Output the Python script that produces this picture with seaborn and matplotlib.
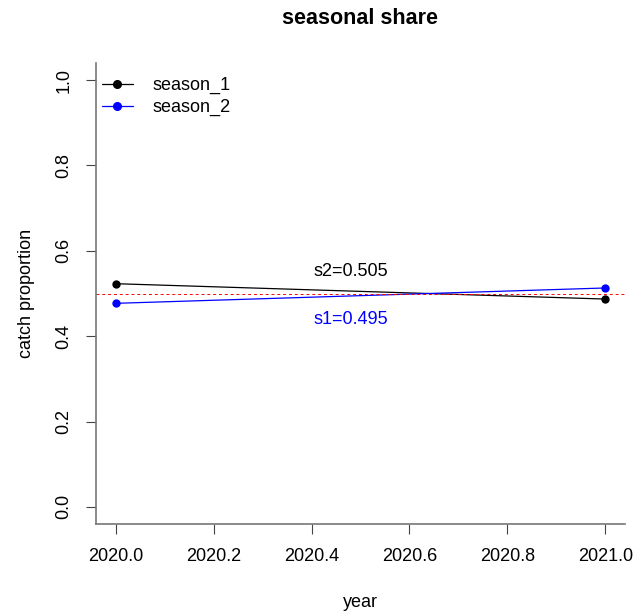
import pandas as pd
import matplotlib
matplotlib.use("Agg")
import matplotlib.pyplot as plt
import seaborn as sns

# values
years = [2020.0, 2021.0]
season_1 = [0.523, 0.487]
season_2 = [0.477, 0.513]
series_names = ["season_1", "season_2"]
series_colors = ["black", "blue"]
x_ticks = [2020.0, 2020.2, 2020.4, 2020.6, 2020.8, 2021.0]
y_ticks = [0.0, 0.2, 0.4, 0.6, 0.8, 1.0]

df = pd.DataFrame({
    "year": years * 2,
    "share": season_1 + season_2,
    "season": [series_names[0]] * 2 + [series_names[1]] * 2,
})

sns.set_style("ticks")
plt.rcParams["font.family"] = ["Liberation Sans", "DejaVu Sans"]
plt.rcParams["text.color"] = "black"
plt.rcParams["axes.labelcolor"] = "black"
plt.rcParams["xtick.color"] = "black"
plt.rcParams["ytick.color"] = "black"

fig = plt.figure(figsize=(6.34, 6.12), dpi=100)
ax = fig.add_axes([0.1514, 0.1438, 0.8344, 0.7532])

sns.lineplot(data=df, x="year", y="share", hue="season",
             palette=series_colors, linewidth=0.9, marker="o",
             markersize=6, markeredgewidth=0, legend=False, ax=ax)

ax.axhline(0.5, color="red", linestyle=(0, (3, 3)), linewidth=0.7)

ax.text(2020.48, 0.551, "s2=0.505", color="black", ha="center", va="center", fontsize=13)
ax.text(2020.48, 0.439, "s1=0.495", color="blue", ha="center", va="center", fontsize=13)

ax.set_xlim(2019.96, 2021.04)
ax.set_ylim(-0.04, 1.04)
ax.set_xticks(x_ticks)
ax.set_xticklabels([f"{v:.1f}" for v in x_ticks], fontsize=13)
ax.set_yticks(y_ticks)
ax.set_yticklabels([f"{v:.1f}" for v in y_ticks], fontsize=13, rotation=90, va="center")
ax.tick_params(length=7, width=0.8, color="#444444", pad=10)

for side in ["top", "right"]:
    ax.spines[side].set_visible(False)
for side in ["left", "bottom"]:
    ax.spines[side].set_color("#777777")
    ax.spines[side].set_linewidth(1.2)

ax.set_xlabel("year", fontsize=13, labelpad=21)
ax.set_ylabel("catch proportion", fontsize=13, labelpad=15)
ax.set_title("seasonal share", fontsize=15.5, fontweight="bold", pad=28)

handles = [plt.Line2D([], [], color=c, marker="o", markersize=5.5, linewidth=0.9)
           for c in series_colors]
ax.legend(handles, series_names, loc="upper left", frameon=False, fontsize=13,
          handlelength=1.7, handletextpad=1.1, borderaxespad=0.0, labelspacing=0.25,
          bbox_to_anchor=(-0.002, 0.985))

fig.savefig("out.png", dpi=100)
